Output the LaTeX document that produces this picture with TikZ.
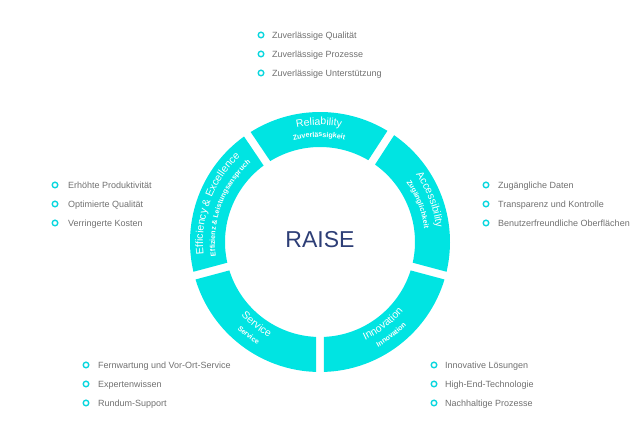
\documentclass[tikz,border=0pt]{standalone}
\usepackage{fontspec}
\setmainfont{Liberation Sans}
\usetikzlibrary{decorations.text}
\definecolor{raisecyan}{RGB}{0,228,226}
\definecolor{dotcyan}{RGB}{10,214,222}
\definecolor{raisenavy}{RGB}{45,62,118}
\definecolor{itemgray}{RGB}{112,112,112}
\newcommand\segmain{\fontsize{10.5}{12}\selectfont}
\newcommand\segsub{\fontsize{7.1}{8}\selectfont\bfseries}
\newcommand\Rout{130}
\newcommand\Rin{95}
\newcommand\ringseg[2]{\fill[segfill] ({#1+1.76}:\Rout) arc[start angle={#1+1.76}, end angle={#2-1.76}, radius=\Rout] -- ({#2-2.41}:\Rin) arc[start angle={#2-2.41}, end angle={#1+2.41}, radius=\Rin] -- cycle;}
\tikzset{
  segfill/.style={fill=raisecyan},
  dot/.style={circle, draw=dotcyan, line width=1.4pt, minimum size=5.6pt, inner sep=0pt},
  item/.style={anchor=base west, inner sep=0pt, text=itemgray, font=\fontsize{9}{11}\selectfont},
  segtext/.style={decorate, decoration={text along path, text color=white, text align=center, text={#1}}}
}
\begin{document}
\begin{tikzpicture}[x=1pt, y=1pt]
\useasboundingbox (0,0) rectangle (640,438);
\begin{scope}[shift={(320,196)}]
\ringseg{57}{124}
\ringseg{124}{195}
\ringseg{195}{270}
\ringseg{270}{345}
\ringseg{-15}{57}
\path[segtext={|\segmain|Reliability}] (124:117) arc[start angle=124, end angle=57, radius=117];
\path[segtext={|\segsub|Zuverlässigkeit}] (124:105) arc[start angle=124, end angle=57, radius=105];
\path[segtext={|\segmain|Accessibility}] (57:117) arc[start angle=57, end angle=-15, radius=117];
\path[segtext={|\segsub|Zugänglichkeit}] (57:105) arc[start angle=57, end angle=-15, radius=105];
\path[segtext={|\segmain|Efficiency {\&} Excellence}] (195:117) arc[start angle=195, end angle=124, radius=117];
\path[segtext={|\segsub|Effizienz {\&} Leistungsanspruch}] (195:105) arc[start angle=195, end angle=124, radius=105];
\path[segtext={|\segmain|Service}] (195:108) arc[start angle=195, end angle=270, radius=108];
\path[segtext={|\segsub|Service}] (195:120) arc[start angle=195, end angle=270, radius=120];
\path[segtext={|\segmain|Innovation}] (270:108) arc[start angle=270, end angle=345, radius=108];
\path[segtext={|\segsub|Innovation}] (270:120) arc[start angle=270, end angle=345, radius=120];
\end{scope}
\node[anchor=base, text=raisenavy, font=\fontsize{23}{26}\selectfont] (raise) at (320,190.4) {RAISE};

\node[dot] (r1d) at (261,403) {}; \node[item] (r1) at (272,399.8) {Zuverlässige Qualität};
\node[dot] (r2d) at (261,384) {}; \node[item] (r2) at (272,380.8) {Zuverlässige Prozesse};
\node[dot] (r3d) at (261,365) {}; \node[item] (r3) at (272,361.8) {Zuverlässige Unterstützung};

\node[dot] (e1d) at (55,253) {}; \node[item] (e1) at (68,249.8) {Erhöhte Produktivität};
\node[dot] (e2d) at (55,234) {}; \node[item] (e2) at (68,230.8) {Optimierte Qualität};
\node[dot] (e3d) at (55,215) {}; \node[item] (e3) at (68,211.8) {Verringerte Kosten};

\node[dot] (a1d) at (486,253) {}; \node[item] (a1) at (498,249.8) {Zugängliche Daten};
\node[dot] (a2d) at (486,234) {}; \node[item] (a2) at (498,230.8) {Transparenz und Kontrolle};
\node[dot] (a3d) at (486,215) {}; \node[item] (a3) at (498,211.8) {Benutzerfreundliche Oberflächen};

\node[dot] (s1d) at (86,73) {}; \node[item] (s1) at (98,69.8) {Fernwartung und Vor-Ort-Service};
\node[dot] (s2d) at (86,54) {}; \node[item] (s2) at (98,50.8) {Expertenwissen};
\node[dot] (s3d) at (86,35) {}; \node[item] (s3) at (98,31.8) {Rundum-Support};

\node[dot] (i1d) at (434,73) {}; \node[item] (i1) at (445,69.8) {Innovative Lösungen};
\node[dot] (i2d) at (434,54) {}; \node[item] (i2) at (445,50.8) {High-End-Technologie};
\node[dot] (i3d) at (434,35) {}; \node[item] (i3) at (445,31.8) {Nachhaltige Prozesse};
\end{tikzpicture}
\end{document}
